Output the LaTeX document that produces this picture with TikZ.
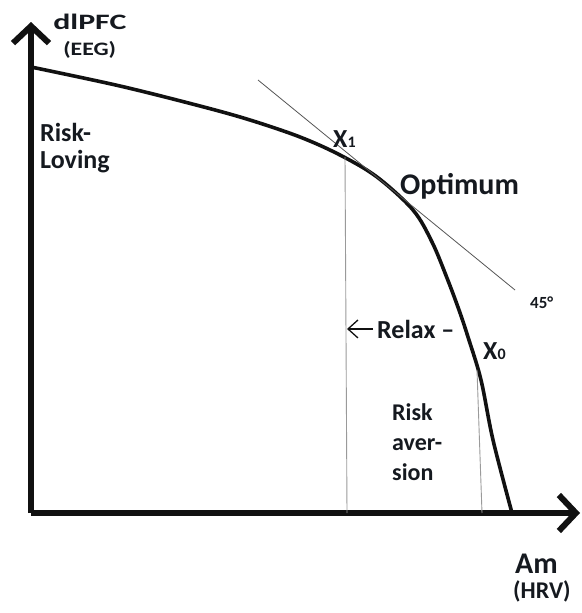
\documentclass[tikz,border=0pt]{standalone}
\usepackage{fontspec}
\setmainfont{Carlito}
\usepackage{tikz}
\usetikzlibrary{arrows.meta,positioning}
\definecolor{FrontInk}{HTML}{111111}
\definecolor{FrontText}{HTML}{15191F}
\definecolor{FrontTangent}{HTML}{555555}
\definecolor{FrontRule}{HTML}{9A9A9A}
\tikzset{
  frontier/axis/.style={
    -{Straight Barb[length=17pt,width=36pt]}, line width=6pt, draw=FrontInk
  },
  frontier/curve/.style={line width=3.6pt, draw=FrontInk},
  frontier/tangent/.style={line width=.8pt, draw=FrontTangent},
  frontier/rule/.style={line width=.9pt, draw=FrontRule},
  frontier/relaxarrow/.style={
    -{Straight Barb[length=10pt,width=18pt]}, line width=1.3pt, draw=FrontInk
  },
  frontier/label/.style={
    inner sep=0pt, anchor=base west, text=FrontText, align=left
  },
  frontier/big/.style={frontier/label, font=\fontsize{30}{30}\selectfont\bfseries},
  frontier/mid/.style={frontier/label, font=\fontsize{26}{27}\selectfont\bfseries},
  frontier/small/.style={frontier/label, font=\fontsize{17}{17}\selectfont\bfseries}
}
\newcommand{\subdigit}[1]{{\fontsize{16}{16}\selectfont #1}}
\begin{document}
\begin{tikzpicture}[x=1pt,y=-1pt]
  \useasboundingbox (0,0) rectangle (581,613);
  % axes
  \coordinate (origin) at (31,513);
  \coordinate (ytip) at (31,22);
  \coordinate (xtip) at (580,513);
  \draw[frontier/axis] (origin) -- (ytip);
  \draw[frontier/axis] (origin) -- (xtip);
  % frontier curve
  \draw[frontier/curve] plot[smooth,tension=.55] coordinates {
    (31,67) (120,86) (200,106) (250,120) (300,137) (340,155) (377,177)
    (413,210) (432,242) (447,278) (459,310) (468,337) (481,380) (493,440) (512,513)};
  \coordinate (xonetop) at (345,157);
  \coordinate (xonefoot) at (347,513);
  \coordinate (xzerotop) at (477,370);
  \coordinate (xzerofoot) at (482,513);
  \coordinate (tanstart) at (258,80);
  \coordinate (tanend) at (515,290);
  \draw[frontier/tangent] (tanstart) -- (tanend);
  \draw[frontier/rule] (xonetop) -- (xonefoot);
  \draw[frontier/rule] (xzerotop) -- (xzerofoot);
  % labels (multi-line nodes sit on their last baseline)
  \node[frontier/label, font=\fontsize{22}{22}\selectfont\bfseries, xscale=1.45] (ylabel) at (53,29) {dlPFC};
  \node[frontier/label, font=\fontsize{19}{19}\selectfont\bfseries, xscale=1.25] (yunit) at (63,55) {(EEG)};
  \node[frontier/mid] (loving) at (40,168) {Risk-\\Loving};
  \node[frontier/mid] (xone) at (333,147) {X\subdigit{1}};
  \node[frontier/big] (optimum) at (400,194) {Optimum};
  \node[frontier/small] (angle) at (530,308) {45°};
  \node[frontier/mid] (relax) at (377,338) {Relax –};
  \node[frontier/mid] (xzero) at (483,359) {X\subdigit{0}};
  \node[frontier/label, font=\fontsize{24}{30}\selectfont\bfseries] (aversion) at (392,480) {Risk\\aver-\\sion};
  \node[frontier/big] (xlabel) at (515,573) {Am};
  \node[frontier/label, font=\fontsize{24}{24}\selectfont\bfseries] (xunit) at (513,598) {(HRV)};
  \draw[frontier/relaxarrow] ([xshift=-4pt]relax.west) -- (relax.west -| xonefoot);
\end{tikzpicture}
\end{document}
